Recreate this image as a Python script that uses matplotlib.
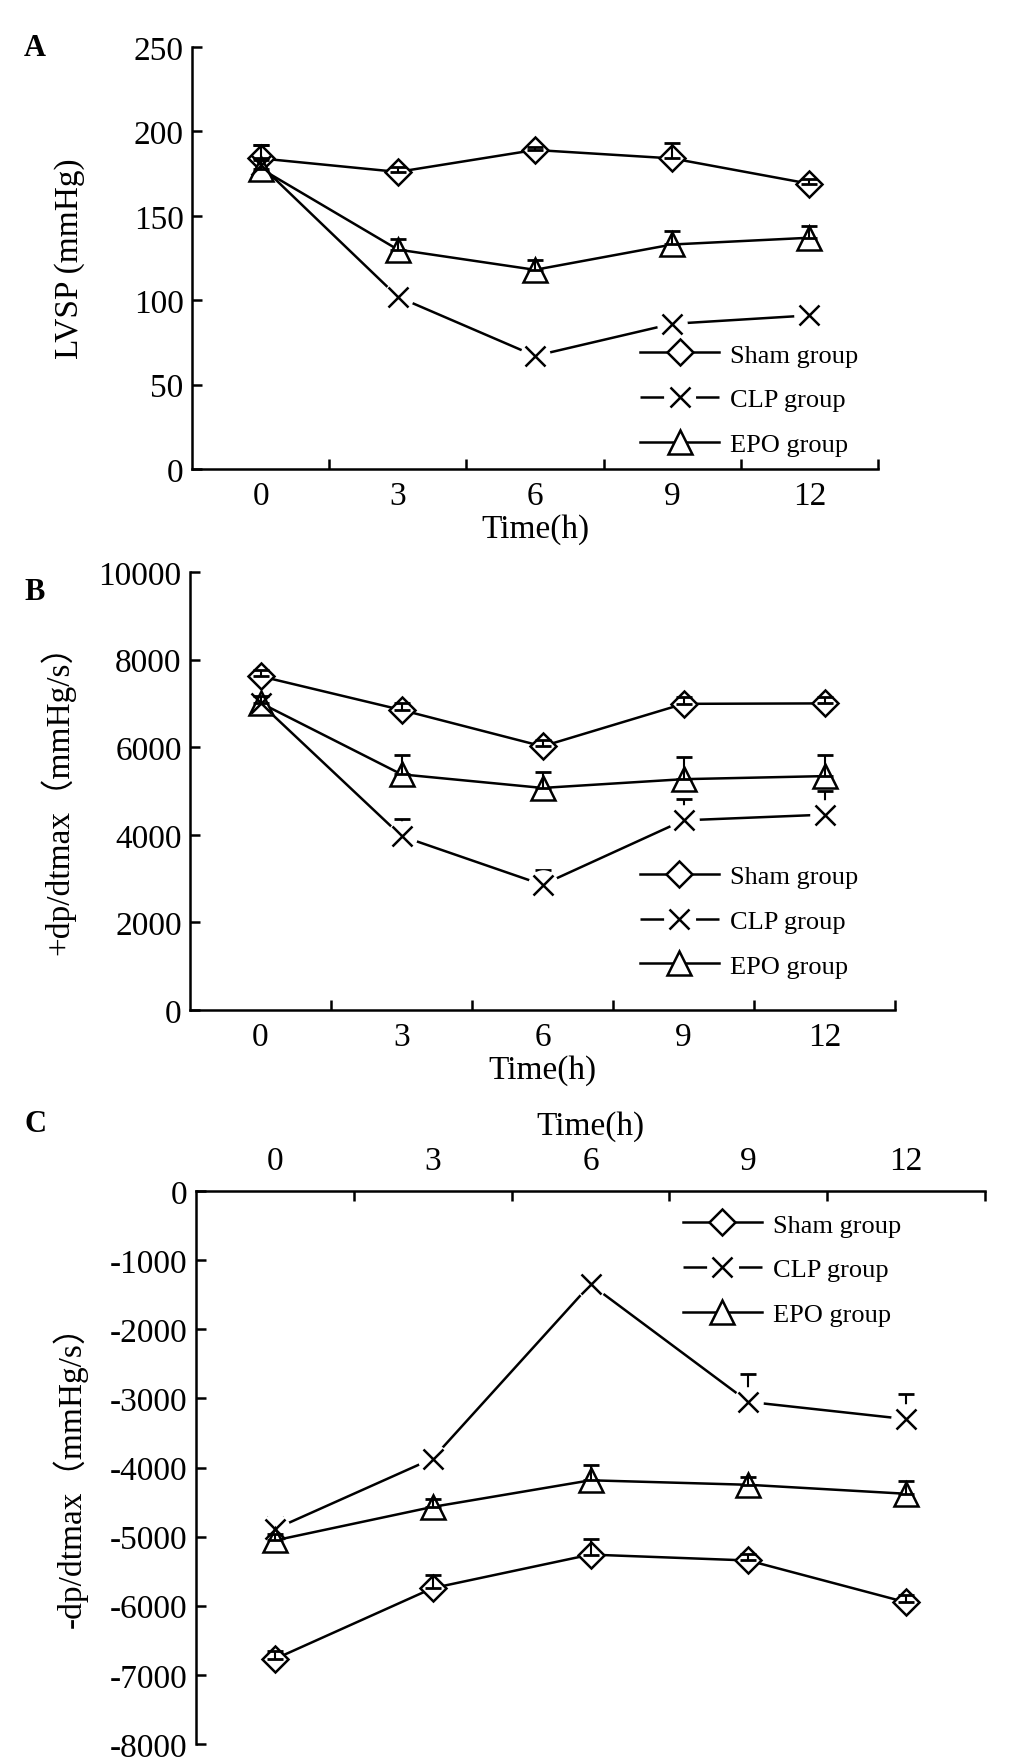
import matplotlib
matplotlib.use('Agg')
import matplotlib.pyplot as plt
import numpy as np
from matplotlib.lines import Line2D

plt.rcParams['font.family'] = ['Liberation Serif', 'Noto Sans CJK SC']
plt.rcParams['axes.unicode_minus'] = False

time_labels = ['0', '3', '6', '9', '12']
group_names = ['Sham group', 'CLP group', 'EPO group']

# panel A: LVSP (mmHg), mean and upper error
lvsp_sham = [184, 176, 189, 184, 169]
lvsp_sham_err = [8, 3, 2, 9, 3]
lvsp_clp = [180, 102, 67, 86, 91]
lvsp_clp_err = [12, 3, 2, 3, 3]
lvsp_epo = [178, 130, 118, 133, 137]
lvsp_epo_err = [5, 6.5, 6, 8, 7]

# panel B: +dp/dtmax (mmHg/s)
dpmax_sham = [7620, 6850, 6020, 6990, 7000]
dpmax_sham_err = [150, 150, 150, 150, 150]
dpmax_clp = [7000, 3970, 2860, 4330, 4460]
dpmax_clp_err = [200, 400, 345, 490, 530]
dpmax_epo = [7010, 5380, 5070, 5270, 5340]
dpmax_epo_err = [150, 450, 360, 500, 480]

# panel C: -dp/dtmax (mmHg/s)
dpmin_sham = [-6770, -5745, -5260, -5345, -5950]
dpmin_sham_err = [120, 195, 220, 100, 100]
dpmin_clp = [-4890, -3870, -1350, -3050, -3300]
dpmin_clp_err = [170, 150, 100, 400, 370]
dpmin_epo = [-5055, -4570, -4185, -4250, -4380]
dpmin_epo_err = [100, 120, 215, 110, 180]

W, H = 1033, 1765
fig = plt.figure(figsize=(W / 100, H / 100), dpi=100)


def box(left, top, right, bottom):
    # pixel box -> figure fraction
    return [left / W, 1 - bottom / H, (right - left) / W, (bottom - top) / H]


LW = 1.8
FS = 24
MS_D, MS_X, MS_T, MS_HALO = 13, 14, 17, 21
x = np.arange(len(time_labels))


def draw_panel(ax, sham, sham_err, clp, clp_err, epo, epo_err):
    zeros = np.zeros(len(x))
    eb = dict(fmt='none', ecolor='k', elinewidth=1.5, capsize=6, capthick=2)
    # CLP: error bar under a white halo, so the line/bar breaks round the X
    ax.errorbar(x, clp, yerr=[zeros, clp_err], zorder=2, **eb)
    ax.plot(x, clp, '-', color='k', lw=LW, zorder=2.2)
    ax.plot(x, clp, 'o', ms=MS_HALO, mfc='white', mec='white', zorder=2.5)
    ax.plot(x, clp, 'x', ms=MS_X, mew=1.8, color='k', zorder=4)
    ax.plot(x, sham, '-D', color='k', lw=LW, ms=MS_D, mfc='white', mew=1.8, zorder=3)
    ax.plot(x, epo, '-^', color='k', lw=LW, ms=MS_T, mfc='white', mew=1.8, zorder=3)
    ax.errorbar(x, sham, yerr=[zeros, sham_err], zorder=3.5, **eb)
    ax.errorbar(x, epo, yerr=[zeros, epo_err], zorder=3.5, **eb)

    ax.set_xlim(-0.5, len(x) - 0.5)
    ax.set_xticks(np.arange(0.5, len(x)))
    ax.set_xticks(x, minor=True)
    ax.set_xticklabels([])
    ax.set_xticklabels(time_labels, minor=True)
    ax.tick_params(axis='x', which='major', direction='in', length=7, width=LW)
    ax.tick_params(axis='x', which='minor', length=0, labelsize=FS, pad=8)
    ax.tick_params(axis='y', direction='in', length=7, width=LW, labelsize=FS, pad=6)
    for s in ax.spines.values():
        s.set_linewidth(LW)
    ax.spines['right'].set_visible(False)


def add_legend(ax, ax_x, ax_y):
    h_sham = Line2D([], [], color='k', lw=LW, marker='D', ms=MS_D, mfc='white', mew=1.8)
    # dashes are in units of line width: dash - gap (with the X) - dash
    h_clp = Line2D([], [], color='k', lw=LW, marker='x', ms=MS_X, mew=1.8,
                   dashes=(17 / LW, 23 / LW))
    h_epo = Line2D([], [], color='k', lw=LW, marker='^', ms=MS_T, mfc='white', mew=1.8)
    ax.legend([h_sham, h_clp, h_epo], group_names, loc='upper left',
              bbox_to_anchor=(ax_x, ax_y), frameon=False, fontsize=19,
              handlelength=3.0, handletextpad=0.4, labelspacing=0.8,
              borderpad=0, borderaxespad=0)


def set_labels(ax, ylabel, ycenter_x, xlabel_y):
    ax.set_ylabel(ylabel, fontsize=FS)
    ax.yaxis.set_label_coords(ycenter_x, 0.5)
    ax.yaxis.label.set_verticalalignment('center')
    ax.set_xlabel('Time(h)', fontsize=FS)
    ax.xaxis.set_label_coords(0.5, xlabel_y)
    ax.xaxis.label.set_verticalalignment('center')


# A
axA = fig.add_axes(box(192, 48, 878, 470))
draw_panel(axA, lvsp_sham, lvsp_sham_err, lvsp_clp, lvsp_clp_err, lvsp_epo, lvsp_epo_err)
axA.set_ylim(0, 250)
axA.set_yticks(np.arange(0, 251, 50))
axA.spines['top'].set_visible(False)
set_labels(axA, 'LVSP (mmHg)', (70 - 192) / 686, -60 / 422)
add_legend(axA, 0.653, 0.298)

# B
axB = fig.add_axes(box(190, 573, 895, 1011))
draw_panel(axB, dpmax_sham, dpmax_sham_err, dpmax_clp, dpmax_clp_err, dpmax_epo, dpmax_epo_err)
axB.set_ylim(0, 10000)
axB.set_yticks(np.arange(0, 10001, 2000))
axB.spines['top'].set_visible(False)
set_labels(axB, '+dp/dtmax（mmHg/s）', (58 - 190) / 705, -60 / 438)
add_legend(axB, 0.638, 0.331)

# C (x axis on top)
axC = fig.add_axes(box(196, 1192, 985, 1745))
draw_panel(axC, dpmin_sham, dpmin_sham_err, dpmin_clp, dpmin_clp_err, dpmin_epo, dpmin_epo_err)
axC.set_ylim(-8000, 0)
axC.set_yticks(np.arange(-8000, 1, 1000))
axC.spines['bottom'].set_visible(False)
axC.xaxis.tick_top()
axC.xaxis.set_label_position('top')
axC.tick_params(axis='x', which='both', top=True, bottom=False)
axC.tick_params(axis='x', which='minor', pad=11)
set_labels(axC, '-dp/dtmax（mmHg/s）', (70 - 196) / 789, 1 + 65 / 553)
add_legend(axC, 0.617, 0.96)

for letter, ypix in [('A', 48), ('B', 593), ('C', 1125)]:
    fig.text(35 / W, 1 - ypix / H, letter, fontsize=22, fontweight='bold',
             ha='center', va='center')

fig.savefig('out.png', dpi=100)
